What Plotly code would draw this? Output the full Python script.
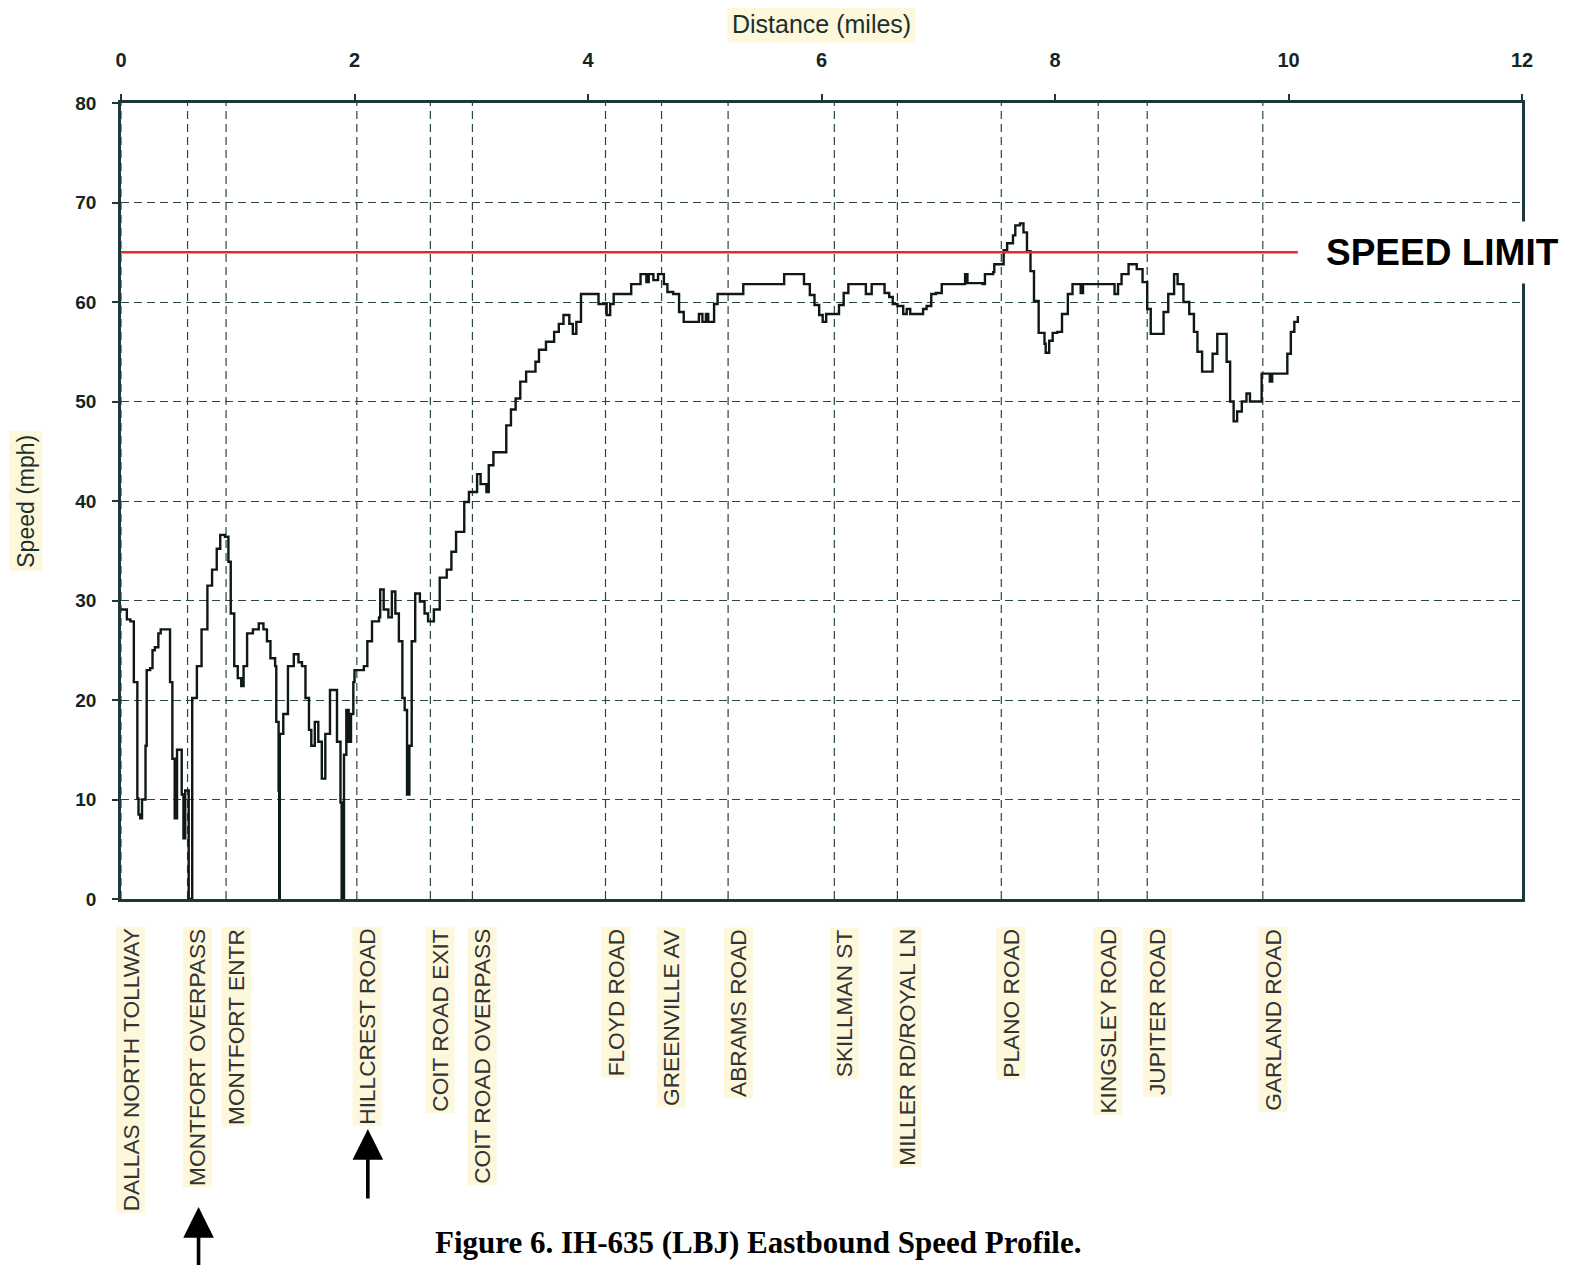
import plotly.graph_objects as go

# ---------------- data ----------------
DIST = [0.00, 0.05, 0.08, 0.11, 0.14, 0.15, 0.165, 0.18, 0.21, 0.22, 0.25, 0.27, 0.29, 0.32, 0.34,
        0.41, 0.42, 0.44, 0.46, 0.48, 0.50, 0.52, 0.535, 0.55, 0.57, 0.58, 0.61, 0.65, 0.69, 0.74,
        0.78, 0.82, 0.85, 0.89, 0.92, 0.94, 0.97, 1.00, 1.03, 1.05, 1.08, 1.13, 1.18, 1.22, 1.25,
        1.28, 1.32, 1.33, 1.35, 1.355, 1.36, 1.39, 1.43, 1.48, 1.52, 1.55, 1.58, 1.61, 1.63, 1.66,
        1.69, 1.72, 1.75, 1.79, 1.83, 1.85, 1.88, 1.89, 1.91, 1.93, 1.95, 1.97, 1.99, 2.00, 2.08,
        2.11, 2.15, 2.21, 2.22, 2.25, 2.29, 2.32, 2.35, 2.38, 2.41, 2.43, 2.45, 2.47, 2.49, 2.52,
        2.56, 2.60, 2.63, 2.68, 2.73, 2.79, 2.83, 2.87, 2.91, 2.94, 2.98, 3.02, 3.05, 3.08, 3.13,
        3.15, 3.19, 3.25, 3.30, 3.34, 3.38, 3.42, 3.47, 3.53, 3.55, 3.58, 3.64, 3.68, 3.71, 3.75,
        3.79, 3.84, 3.87, 3.90, 3.94, 4.05, 4.09, 4.15, 4.16, 4.19, 4.22, 4.34, 4.37, 4.43, 4.45,
        4.50, 4.52, 4.56, 4.60, 4.65, 4.68, 4.73, 4.78, 4.82, 4.91, 4.95, 4.98, 5.01, 5.03, 5.08,
        5.11, 5.32, 5.33, 5.67, 5.68, 5.80, 5.85, 5.90, 5.94, 5.98, 6.01, 6.04, 6.12, 6.15, 6.19,
        6.23, 6.36, 6.38, 6.42, 6.43, 6.51, 6.54, 6.58, 6.61, 6.65, 6.70, 6.73, 6.76, 6.84, 6.87,
        6.90, 6.94, 6.98, 7.03, 7.22, 7.23, 7.25, 7.38, 7.40, 7.47, 7.48, 7.55, 7.56, 7.59, 7.64,
        7.66, 7.70, 7.73, 7.76, 7.79, 7.82, 7.86, 7.91, 7.92, 7.95, 7.98, 8.02, 8.06, 8.11, 8.15,
        8.20, 8.22, 8.24, 8.50, 8.51, 8.54, 8.57, 8.63, 8.70, 8.75, 8.79, 8.82, 8.89, 8.93, 8.97,
        9.02, 9.05, 9.10, 9.15, 9.19, 9.22, 9.26, 9.31, 9.35, 9.39, 9.44, 9.47, 9.50, 9.53, 9.56,
        9.60, 9.64, 9.67, 9.74, 9.77, 9.82, 9.84, 9.86, 9.97, 9.99, 10.02, 10.05, 10.08]

SPEED = [29.1, 28.1, 27.9, 21.8, 10.1, 8.5, 8.1, 10.0, 15.4, 23.0, 23.2, 25.0, 25.3, 26.7, 27.1,
         27.1, 21.8, 14.1, 8.1, 15.0, 15.0, 10.5, 6.1, 10.9, 10.9, 0.0, 20.2, 23.4, 27.1, 31.5,
         33.1, 35.2, 36.6, 36.4, 33.9, 28.7, 23.4, 22.2, 21.4, 23.4, 26.7, 27.1, 27.7, 27.1, 25.9,
         24.2, 23.4, 17.8, 10.9, 0.0, 16.6, 18.6, 23.4, 24.6, 23.8, 23.4, 20.2, 17.0, 15.4, 17.8,
         15.8, 12.1, 16.6, 21.0, 21.0, 15.8, 9.7, 0.0, 14.5, 19.0, 15.8, 18.6, 21.8, 23.0, 23.4,
         25.9, 27.9, 28.3, 31.1, 29.1, 28.3, 30.9, 28.7, 25.9, 20.2, 19.0, 10.5, 15.4, 25.9, 30.7,
         29.9, 28.7, 27.9, 29.1, 32.3, 33.1, 34.9, 36.9, 36.9, 39.9, 40.9, 40.9, 42.7, 41.7, 40.9,
         43.6, 44.9, 44.9, 47.6, 49.2, 50.3, 52.0, 53.0, 53.0, 54.0, 55.2, 56.0, 56.0, 57.0, 57.8,
         58.7, 57.8, 56.8, 58.0, 60.8, 60.8, 59.8, 59.8, 58.7, 59.8, 60.8, 60.8, 61.8, 61.8, 62.8,
         62.0, 62.8, 62.2, 62.8, 61.8, 61.0, 60.8, 59.0, 58.0, 58.0, 58.8, 58.0, 58.8, 58.0, 59.8,
         60.8, 60.8, 61.8, 61.8, 62.8, 62.8, 61.8, 60.7, 59.7, 58.7, 58.0, 58.8, 58.8, 59.7, 60.9,
         61.8, 61.8, 60.8, 60.8, 61.8, 61.8, 60.9, 60.5, 59.8, 59.6, 58.8, 59.3, 58.8, 58.8, 59.3,
         59.6, 60.8, 60.9, 61.8, 61.8, 62.8, 61.9, 61.8, 62.8, 63.0, 63.8, 63.8, 65.2, 65.9, 66.7,
         67.7, 67.9, 67.0, 65.1, 63.1, 60.1, 56.9, 55.8, 54.9, 56.1, 56.9, 57.0, 58.8, 60.8, 61.8,
         61.8, 60.9, 61.8, 61.8, 60.8, 61.8, 62.8, 63.8, 63.3, 62.0, 59.3, 56.8, 56.8, 59.0, 60.8,
         62.8, 61.8, 60.0, 58.8, 57.0, 55.0, 53.0, 53.0, 54.8, 56.8, 56.8, 54.0, 50.0, 48.0, 49.0,
         50.0, 50.8, 50.0, 50.0, 52.8, 52.8, 52.0, 52.8, 52.8, 54.8, 57.0, 58.0, 58.6]

SPEED_LIMIT = 65
LIMIT_X = [0, 10.08]

LANDMARKS = ["DALLAS NORTH TOLLWAY", "MONTFORT OVERPASS", "MONTFORT ENTR", "HILLCREST ROAD",
             "COIT ROAD EXIT", "COIT ROAD OVERPASS", "FLOYD ROAD", "GREENVILLE AV", "ABRAMS ROAD",
             "SKILLMAN ST", "MILLER RD/ROYAL LN", "PLANO ROAD", "KINGSLEY ROAD", "JUPITER ROAD",
             "GARLAND ROAD"]
LANDMARK_X = [0.0, 0.57, 0.90, 2.02, 2.65, 3.01, 4.15, 4.63, 5.20, 6.11, 6.65, 7.54, 8.37, 8.79, 9.78]
ARROW_AT = ["MONTFORT OVERPASS", "HILLCREST ROAD"]

X_TICKS = [0, 2, 4, 6, 8, 10, 12]
Y_TICKS = [0, 10, 20, 30, 40, 50, 60, 70, 80]

# ---------------- styling ----------------
FONT = "Liberation Sans, Arial, sans-serif"
AXIS_COL = "#1d3838"
GRID_COL = "#2c4646"
DASH = "8px,5px"
LABEL_BG = "#fdf7dc"

fig = go.Figure()
fig.add_trace(go.Scatter(x=DIST, y=SPEED, mode="lines",
                         line=dict(color="#0f1818", width=2.4, shape="hv"),
                         showlegend=False, hoverinfo="skip"))
fig.add_trace(go.Scatter(x=LIMIT_X, y=[SPEED_LIMIT] * len(LIMIT_X), mode="lines",
                         line=dict(color="#e8282c", width=2.5), showlegend=False, hoverinfo="skip"))

shapes = []
for lx in LANDMARK_X:
    shapes.append(dict(type="line", xref="x", yref="paper", x0=lx, x1=lx, y0=0, y1=1,
                       line=dict(color=GRID_COL, width=1.2, dash=DASH), layer="below"))

annotations = []
for name, lx in zip(LANDMARKS, LANDMARK_X):
    annotations.append(dict(x=lx, y=-0.035, xref="x", yref="paper", text=name,
                            textangle=-90, xanchor="center", yanchor="top", xshift=10,
                            showarrow=False, bgcolor=LABEL_BG, borderpad=1,
                            font=dict(family=FONT, size=22.7, color="#333333")))

# arrows under selected landmark labels
arrow_specs = {"MONTFORT OVERPASS": (-0.387, 75), "HILLCREST ROAD": (-0.289, 71)}
for name, lx in zip(LANDMARKS, LANDMARK_X):
    if name in ARROW_AT:
        ytip, tail = arrow_specs[name]
        annotations.append(dict(x=lx, y=ytip, xref="x", yref="paper", text="", xshift=11,
                                showarrow=True, ax=0, ay=tail, axref="pixel", ayref="pixel",
                                arrowhead=2, arrowsize=1.7, arrowwidth=3.6, arrowcolor="#000000"))

# axis titles
annotations.append(dict(x=0.5, y=1.099, xref="paper", yref="paper", text="Distance (miles)",
                        showarrow=False, xanchor="center", yanchor="middle", bgcolor=LABEL_BG,
                        borderpad=4, font=dict(family=FONT, size=25, color="#1a302d")))
annotations.append(dict(x=-0.068, y=0.5, xref="paper", yref="paper", text="Speed (mph)",
                        textangle=-90, showarrow=False, xanchor="center", yanchor="middle",
                        bgcolor=LABEL_BG, borderpad=3, font=dict(family=FONT, size=23, color="#1a302d")))

# speed limit label
annotations.append(dict(x=0.9435, y=SPEED_LIMIT, xref="paper", yref="y", text="<b>SPEED LIMIT</b>",
                        showarrow=False, xanchor="center", yanchor="middle", bgcolor="#ffffff",
                        borderpad=10, font=dict(family=FONT, size=37, color="#000000")))

# caption
annotations.append(dict(x=0.455, y=-0.432, xref="paper", yref="paper",
                        text="<b>Figure 6. IH-635 (LBJ) Eastbound Speed Profile.</b>",
                        showarrow=False, xanchor="center", yanchor="middle",
                        font=dict(family="Liberation Serif, Times New Roman, serif", size=31,
                                  color="#000000")))

fig.update_layout(
    width=1570, height=1265,
    margin=dict(l=113, r=56, t=95, b=374, pad=0),
    paper_bgcolor="#ffffff", plot_bgcolor="#ffffff",
    showlegend=False,
    shapes=shapes, annotations=annotations,
    xaxis=dict(side="top", range=[0, 12], tickvals=X_TICKS, ticktext=[str(v) for v in X_TICKS],
               showgrid=False, zeroline=False, showline=True, linecolor=AXIS_COL, linewidth=2.5,
               mirror=True, ticks="outside", ticklen=6, tickwidth=1.5, tickcolor=AXIS_COL,
               ticklabelstandoff=19,
               tickfont=dict(family=FONT, size=20, color="#142624", weight="bold")),
    yaxis=dict(range=[0, 80], tickvals=Y_TICKS, showgrid=True, gridcolor=GRID_COL, gridwidth=1.2,
               griddash=DASH, zeroline=False, showline=True, linecolor=AXIS_COL, linewidth=2.5,
               mirror=True, ticks="outside", ticklen=6, tickwidth=1.5, tickcolor=AXIS_COL,
               ticklabelstandoff=12,
               tickfont=dict(family=FONT, size=19, color="#142624", weight="bold")),
)

fig.write_html("out.html")
